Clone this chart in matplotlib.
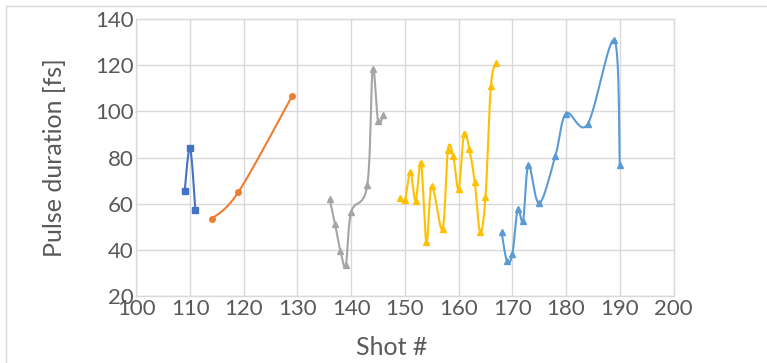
import numpy as np
import matplotlib
matplotlib.use("Agg")
import matplotlib.pyplot as plt
from matplotlib.lines import Line2D

# ---- data ----
s1_x = [109, 110, 111]
s1_y = [65.5, 84.1, 57.3]

s2_x = [114, 119, 129]
s2_y = [53.4, 65.1, 106.6]

s3_x = [136, 137, 138, 139, 140, 143, 144, 145, 146]
s3_y = [62.1, 51.2, 39.6, 33.5, 56.4, 68.1, 118.3, 95.8, 98.4]

s4_x = [149, 150, 151, 152, 153, 154, 155, 157, 158, 159, 160, 161, 162, 163, 164, 165, 166, 167]
s4_y = [62.4, 61.6, 73.9, 61.3, 77.9, 43.3, 67.7, 49.1, 83.5, 80.6, 66.4, 90.2, 83.6, 69.3, 47.9, 63.0, 110.9, 121.0]

s5_x = [168, 169, 170, 171, 172, 173, 175, 178, 180, 184, 189, 190]
s5_y = [47.7, 35.3, 38.2, 57.8, 52.7, 76.8, 60.2, 80.6, 99.1, 94.4, 130.8, 76.8]

x_ticks = [100, 110, 120, 130, 140, 150, 160, 170, 180, 190, 200]
y_ticks = [20, 40, 60, 80, 100, 120, 140]

series = [
    (s1_x, s1_y, "#4472C4", "s"),
    (s2_x, s2_y, "#ED7D31", "o"),
    (s3_x, s3_y, "#A5A5A5", "^"),
    (s4_x, s4_y, "#FFC000", "^"),
    (s5_x, s5_y, "#5B9BD5", "^"),
]


def smooth(xs, ys, n=30):
    """Excel-like smoothed line: cubic Bezier with Catmull-Rom style controls."""
    p = np.column_stack([xs, ys]).astype(float)
    out = [p[0]]
    t = np.linspace(0, 1, n)[1:]
    for i in range(len(p) - 1):
        p0 = p[i - 1] if i > 0 else p[i]
        p1 = p[i]
        p2 = p[i + 1]
        p3 = p[i + 2] if i + 2 < len(p) else p[i + 1]
        c1 = p1 + (p2 - p0) / 6.0
        c2 = p2 - (p3 - p1) / 6.0
        for tt in t:
            b = ((1 - tt) ** 3) * p1 + 3 * ((1 - tt) ** 2) * tt * c1 \
                + 3 * (1 - tt) * tt ** 2 * c2 + tt ** 3 * p2
            out.append(b)
    out = np.array(out)
    return out[:, 0], out[:, 1]


plt.rcParams['font.family'] = ['Lato', 'DejaVu Sans']
W, H = 767, 363
fig = plt.figure(figsize=(W / 100, H / 100), dpi=100)

# outer chart border
fig.add_artist(Line2D([6 / W, 1], [1 - 6 / H, 1 - 6 / H], color="#D9D9D9", lw=1.0,
                      transform=fig.transFigure))
fig.add_artist(Line2D([6 / W, 6 / W], [0, 1 - 6 / H], color="#D9D9D9", lw=1.0,
                      transform=fig.transFigure))

ax = fig.add_axes([136.3 / W, (H - 296.3) / H, (673.5 - 136.3) / W, (296.3 - 19) / H])

for xs, ys, col, mk in series:
    sx, sy = smooth(xs, ys)
    ax.plot(sx, sy, color=col, lw=1.5, solid_capstyle="round", zorder=3)
    ax.plot(xs, ys, linestyle="none", marker=mk, color=col, markersize=5 if mk != "o" else 4,
            zorder=4)

ax.set_xlim(100, 200)
ax.set_ylim(20, 140)
ax.set_xticks(x_ticks)
ax.set_yticks(y_ticks)
ax.grid(True, color="#D9D9D9", lw=1.0, zorder=0)
ax.set_axisbelow(True)
for sp in ax.spines.values():
    sp.set_color("#D9D9D9")
    sp.set_linewidth(1.0)
ax.tick_params(axis="both", length=0, labelsize=16, colors="#595959")
ax.tick_params(axis="y", pad=2)
ax.tick_params(axis="x", pad=2)

ax.set_xlabel("Shot #", fontsize=18, color="#595959", labelpad=12)
ax.xaxis.label.set_x(0.476)
ax.set_ylabel("Pulse duration [fs]", fontsize=18, color="#595959", labelpad=21)

fig.savefig("out.png", dpi=100)
